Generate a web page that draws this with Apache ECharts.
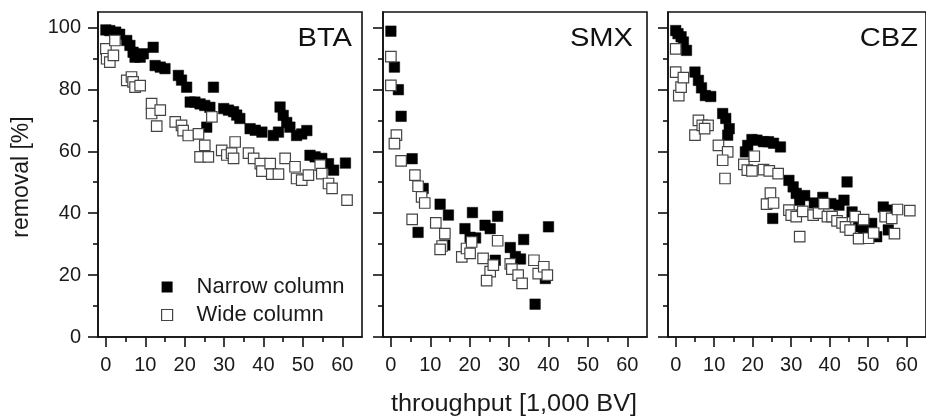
<!DOCTYPE html>
<html>
<head>
<meta charset="utf-8">
<script src="https://cdn.jsdelivr.net/npm/echarts@6/dist/echarts.min.js"></script>
<style>
html,body{margin:0;padding:0;background:#fff;}
#chart{width:926px;height:417px;}
</style>
</head>
<body>
<div id="chart"></div>
<script>
// ---- data (x = throughput [1,000 BV], y = removal [%]) ----
const panelNames = ['BTA', 'SMX', 'CBZ'];
const seriesNames = ['Narrow column', 'Wide column'];
const xMajorTicks = [0, 10, 20, 30, 40, 50, 60];
const xMinorTicks = [5, 15, 25, 35, 45, 55];
const yMajorTicks = [0, 20, 40, 60, 80, 100];
const yMinorTicks = [10, 30, 50, 70, 90];

const btaNarrow = [[0,99.2],[1,99],[2.5,98.5],[3.5,97.8],[5.3,95.8],[6.1,94.2],[6.9,92],[7.4,90.4],[8.7,90.4],[9.5,91.5],[12,93.6],[12.5,87.7],[13.8,87.2],[15,86.7],[18.4,84.5],[19.2,83],[20.5,80.7],[27.3,80.7],[21.4,75.9],[22.6,75.9],[23.9,75.3],[25.1,74.8],[26.4,74.2],[25.6,67.8],[29.9,73.8],[31.1,73.3],[32.4,72.8],[33.2,71.7],[34,70.6],[36.6,67.3],[37.9,66.8],[39.6,66.2],[42.5,65.1],[43.8,66.2],[44.2,74.3],[45,71.6],[45.9,69.3],[46.7,67.8],[48.4,65.1],[49.7,65.6],[51,66.7],[51.8,58.7],[53.1,58.2],[54.8,57.7],[56.5,56],[57.8,53.9],[60.8,56.2]];
const btaWide = [[0,93.1],[0.2,89.9],[1,88.8],[1.9,91],[2.3,95.8],[5.3,82.9],[6.5,84],[6.9,82.4],[7.4,80.7],[8.7,81.2],[11.6,75.4],[11.6,72.2],[13.8,73.3],[12.9,68.1],[17.6,69.5],[19.2,68.4],[19.6,66.7],[20.9,65.1],[23.5,65.6],[25.1,61.9],[23.9,58.2],[26,58.2],[26.9,71.1],[29.4,60.3],[30.7,58.8],[31.9,59.4],[32.8,63],[32.4,57.7],[36.2,59.4],[37.5,57.7],[39.2,56],[39.6,53.6],[41.7,56],[42.1,52.6],[43.8,52.6],[45.5,57.7],[48,55],[48.4,51.2],[49.7,50.7],[51.4,52.3],[54.4,55.5],[54.8,52.8],[56.5,49.6],[57.4,48],[61.2,44.2]];
const smxNarrow = [[0,98.8],[0.9,87.2],[1.9,79.9],[2.6,71.3],[5.4,57.6],[8.2,48],[6.9,33.8],[12.5,42.9],[14.6,39.4],[13.7,29.7],[18.8,35],[20.7,40.2],[20.1,32.2],[21.5,32],[23.9,36.1],[25.2,35],[27.1,39],[26.5,24.8],[30.3,28.9],[31.6,26],[32.9,25.2],[33.7,31.5],[40,35.6],[39.2,18.9],[36.6,10.6]];
const smxWide = [[0,90.6],[0,81.3],[1.4,65.2],[0.9,62.5],[2.6,56.9],[6.1,52.3],[6.9,48.7],[7.8,45.3],[8.6,43.3],[5.4,38],[11.4,36.9],[13.7,33.4],[13,29.4],[12.5,28.3],[18,25.9],[19.2,28.6],[20.5,30.7],[20.1,27],[23.4,25.4],[25.2,21.1],[24.3,18.2],[26,23.2],[27.1,31.1],[30.3,23.6],[30.7,21.9],[32.3,20],[33.3,17.3],[36.3,24.8],[37.4,20.5],[38.8,22.7],[39.7,20]];
const cbzNarrow = [[0,99],[0.6,98],[1.4,97],[2,95.3],[2.8,92.6],[5,85.6],[5.9,82.9],[6.7,80.5],[7.7,78],[9.1,77.7],[12.2,72.2],[13,70.6],[13.9,67.3],[13.5,65.2],[18.1,59.8],[18.7,61.9],[19.8,63.8],[21.1,63.6],[22.8,63.1],[24.1,63.1],[25.4,62.6],[27.2,61.4],[25.2,38.3],[29.4,50.6],[30.5,48.5],[31.3,46.4],[32.2,44.2],[33.5,45.7],[36,43.3],[38.2,45.1],[40.3,43.1],[42.4,42.6],[43.7,44.2],[44.5,50.1],[45.8,40.4],[47.5,35.6],[48.8,34.5],[50.9,36.7],[52.2,32.4],[53.9,42],[55.2,34.6],[55.6,41]];
const cbzWide = [[0,93.1],[0,85.6],[0.8,78],[1.4,80.7],[2,83.8],[5,65.2],[5.9,70],[6.9,68.4],[8.4,68.4],[7.5,67.3],[11.1,61.9],[13.5,59.8],[12.2,57.1],[12.8,51.2],[17.7,55.8],[18.6,53.9],[19.8,53.7],[20.4,58.4],[22.8,54.1],[24.3,53.7],[26.6,52.8],[24.6,46.5],[23.6,42.9],[25.4,43.3],[29.4,41],[30,39.4],[31.3,38.9],[32.2,32.4],[33,40.6],[35.7,39.4],[37.1,40],[38.5,43.1],[39.4,38.9],[40.6,38.9],[41.9,37.5],[43.2,36.9],[44.1,35.6],[45.3,34.5],[46.6,38.9],[47.5,31.8],[48.8,37.9],[50.1,31.9],[51.4,33.6],[54.4,38.9],[56.1,38.3],[56.8,33.4],[57.6,41.2],[60.8,40.8]];

const panelData = [[btaNarrow, btaWide], [smxNarrow, smxWide], [cbzNarrow, cbzWide]];

// ---- layout / style ----
const gridLefts = [98, 383, 668];
const gridW = 264, gridTop = 12, gridH = 325;
const titleRight = [352, 633, 918];
const ink = '#111';
const font = 'Liberation Sans, Arial, sans-serif';

const grids = [], xAxes = [], yAxes = [], series = [], graphics = [];
gridLefts.forEach((l, i) => {
  grids.push({left: l, top: gridTop, width: gridW, height: gridH, show: true,
    borderColor: ink, borderWidth: 1.6, backgroundColor: 'transparent', containLabel: false});
  // major x
  xAxes.push({type: 'value', gridIndex: i, min: -2, max: 65, position: 'bottom',
    axisLine: {show: true, onZero: false, lineStyle: {color: ink, width: 1.6}},
    axisTick: {show: true, inside: false, length: 10, customValues: xMajorTicks, lineStyle: {color: ink, width: 1.6}},
    axisLabel: {show: true, customValues: xMajorTicks, margin: 18, color: '#1a1a1a', fontSize: 20, fontFamily: font},
    splitLine: {show: false}});
  // minor x
  xAxes.push({type: 'value', gridIndex: i, min: -2, max: 65, position: 'bottom',
    axisLine: {show: false, onZero: false},
    axisTick: {show: true, inside: false, length: 5, customValues: xMinorTicks, lineStyle: {color: ink, width: 1.6}},
    axisLabel: {show: false}, splitLine: {show: false}});
  // major y
  yAxes.push({type: 'value', gridIndex: i, min: 0, max: 105, position: 'left',
    axisLine: {show: true, onZero: false, lineStyle: {color: ink, width: 1.6}},
    axisTick: {show: true, inside: false, length: 10, customValues: yMajorTicks, lineStyle: {color: ink, width: 1.6}},
    axisLabel: {show: i === 0, customValues: yMajorTicks, margin: 17, color: '#1a1a1a', fontSize: 20, fontFamily: font},
    splitLine: {show: false}});
  // minor y
  yAxes.push({type: 'value', gridIndex: i, min: 0, max: 105, position: 'left',
    axisLine: {show: false, onZero: false},
    axisTick: {show: true, inside: false, length: 5, customValues: yMinorTicks, lineStyle: {color: ink, width: 1.6}},
    axisLabel: {show: false}, splitLine: {show: false}});

  const [narrow, wide] = panelData[i];
  series.push({type: 'scatter', name: seriesNames[0], xAxisIndex: 2 * i, yAxisIndex: 2 * i,
    data: narrow, symbol: 'rect', symbolSize: 10.5, itemStyle: {color: '#000', borderColor: '#000', borderWidth: 0.5, opacity: 1},
    emphasis: {disabled: true}, z: 2, animation: false});
  series.push({type: 'scatter', name: seriesNames[1], xAxisIndex: 2 * i, yAxisIndex: 2 * i,
    data: wide, symbol: 'rect', symbolSize: 10.5, itemStyle: {color: '#fff', borderColor: '#444', borderWidth: 1.2, opacity: 1},
    emphasis: {disabled: true}, z: 3, animation: false});

  graphics.push({type: 'text', x: titleRight[i], y: 39, scaleX: 1.12,
    style: {text: panelNames[i], font: '26px ' + font, fill: '#111', textAlign: 'right', textVerticalAlign: 'middle'}, z: 10});
});

graphics.push({type: 'text', x: 22, y: 177, rotation: Math.PI / 2,
  style: {text: 'removal [%]', font: '23px ' + font, fill: '#1a1a1a', textAlign: 'center', textVerticalAlign: 'middle'}});
graphics.push({type: 'text', x: 514, y: 405, scaleX: 1.1,
  style: {text: 'throughput [1,000 BV]', font: '23px ' + font, fill: '#1a1a1a', textAlign: 'center', textVerticalAlign: 'middle'}});

const chart = echarts.init(document.getElementById('chart'), null, {renderer: 'canvas'});
chart.setOption({
  animation: false,
  backgroundColor: '#fff',
  grid: grids,
  xAxis: xAxes,
  yAxis: yAxes,
  series: series,
  legend: {
    data: [
      {name: seriesNames[0], icon: 'rect', itemStyle: {color: '#000', borderWidth: 0}},
      {name: seriesNames[1], icon: 'rect', itemStyle: {color: '#fff', borderColor: '#444', borderWidth: 1.2}}
    ],
    orient: 'vertical', left: 156, top: 271, itemWidth: 11, itemHeight: 11, itemGap: 6,
    selectedMode: false,
    textStyle: {fontSize: 22, fontFamily: font, color: '#1a1a1a', padding: [0, 0, 0, 19], lineHeight: 22}
  },
  graphic: graphics
});
</script>
</body>
</html>
